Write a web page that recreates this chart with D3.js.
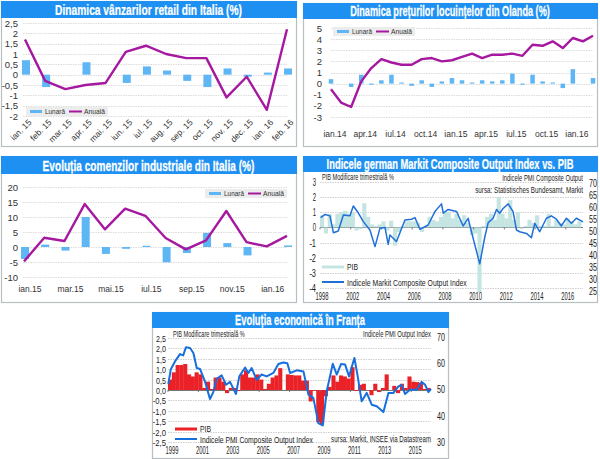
<!DOCTYPE html>
<html>
<head>
<meta charset="utf-8">
<script src="https://d3js.org/d3.v7.min.js"></script>
<style>
  body { margin: 0; background: #fff; }
  svg { display: block; }
  text { font-family: "Liberation Sans", Arial, sans-serif; fill: #333; }
  .narrow { fill: #222; }
  .title { font-weight: bold; fill: #fff; stroke: #fff; stroke-width: 0.25; text-anchor: middle; }
</style>
</head>
<body>
<svg id="chart" width="600" height="459"></svg>
<script>
// Vanzari retail Italia
var retailLabels = ["ian. 15","feb. 15","mar. 15","apr. 15","mai. 15","iun. 15","iul. 15","aug. 15","sep. 15","oct. 15","nov. 15","dec. 15","ian. 16","feb. 16"];
var retailLunara = [0.7,-0.6,0,0.6,0,-0.4,0.4,0.2,-0.3,-0.6,0.3,-0.1,0.1,0.3];
var retailAnuala = [1.7,-0.3,-0.7,-0.5,-0.4,1.1,1.4,1.0,0.8,0.8,-1.1,-0.1,-1.7,2.2];
var retailTicks = [2.5,2,1.5,1,0.5,0,-0.5,-1,-1.5,-2];

// Preturi locuinte Olanda
var olandaLabels = ["ian.14","apr.14","iul.14","oct.14","ian.15","apr.15","iul.15","oct.15","ian.16"];
var olandaLunara = [0.4,0,-0.3,0.8,-0.1,0.3,0.8,0.1,-0.2,0.3,-0.3,0.2,0.5,0.3,0.1,0.3,0.2,0.3,0.9,-0.1,0.8,0.2,0.1,-0.4,1.3,0,0.5];
var olandaAnuala = [-0.5,-1.7,-2.1,0.2,1.4,2.2,1.9,1.7,1.7,2.2,2.3,2.0,2.1,2.4,2.7,2.3,2.6,2.6,2.7,2.5,3.5,3.4,3.8,3.2,4.1,3.8,4.3];
var olandaTicks = [5,4,3,2,1,0,-1,-2,-3];

// Comenzi industriale Italia
var comenziLabels = ["ian.15","mar.15","mai.15","iul.15","sep.15","nov.15","ian.16"];
var comenziLunara = [-4,0.8,-1.2,10,-2.3,-0.6,0.4,-5.1,-2,4.7,1.3,-2.8,0,0.5];
var comenziAnuala = [-4.8,3.1,2,14.3,5.9,12.8,10.4,3,-0.8,2.2,12,1.6,0.2,3.7];
var comenziTicks = [20,15,10,5,0,-5,-10];

// Germania, PIB trimestrial din 2000
var germanPib = [0.8,-0.4,0.9,0.2, 0.9,1.0,1.1,0.9, 1.0,-0.2,-0.1,1.6, 0.7,0.2,0.1,0.2,
  0.4,-0.2,0.45,-1.2, -0.3,0.1,0.4,0.4, 0.4,0.3,-0.3,0.1, 0.7,0.5,0.4,0.7,
  1.1,1.0,0.6,0.9, 0.5,0.8,0.3,-0.5, -0.4,-4.3,0.1,0.7, 0.9,0.5,2.0,0.9,
  0.6,1.8,0.5,1.0, -0.1,0.1,0.5,0.3, 0.8,0.1,0.1,0.9, 0.1,0.5,0.3,0.2, 0.6,0.4,0.2,0.4];
var germanYears = [2000.04,2000.33,2000.65,2000.87,2001.19,2001.52,2001.95,2002.17,2002.49,2002.82,2003.25,2003.58,2003.9,2004.23,2004.44,2004.55,2004.98,2005.53,2005.96,2006.18,2006.5,2007.04,2007.48,2007.91,2008.02,2008.34,2008.89,2009.32,2009.64,2009.97,2010.4,2010.73,2010.95,2011.27,2011.49,2011.7,2011.92,2012.25,2012.57,2012.79,2013,2013.44,2013.76,2013.98,2014.3,2014.74,2015.06,2015.39,2015.71,2016.04,2016.36,2016.69,2017.12];
var germanPmi = [55.6,56.9,56.3,49.3,50,56.7,56.4,60.4,57.6,53.9,50.4,43.5,51.1,51.5,44.4,48.3,45.6,54.6,54.9,55.6,50.7,52.5,58.1,61.3,57.4,59,58.1,52.1,55.3,46.9,36.3,47.6,53.5,55.3,59,57.4,59.4,61.3,58.1,50.4,49.7,49,47.2,53.2,49.7,55.3,56.3,54.9,52.1,55.3,53.2,55.3,53.8];
var germanLeftTicks = [3,2,1,0,-1,-2,-3,-4];
var germanRightTicks = [70,65,60,55,50,45,40,35,30,25];
var germanLabels = ["1998","2002","2004","2006","2008","2010","2012","2014","2016"];
var germanLabelYears = [2000,2002,2004,2006,2008,2010,2012,2014,2016];

// Franta, PIB trimestrial din 1999
var francePib = [0.5,0.85,1.2,1.2, 1.25,0.75,0.65,0.85, 0.75,0.1,0.4,0.05, 0.6,0.6,0.4,-0.15,
  0.1,0.1,-0.05,0.75, 0.95,0.6,0.6,0.75, 0.5,0.05,0.3,0.6, 0.7,1.05,0,0.75,
  0.72,0.7,0.7,0.45, 0.45,-0.55,-0.02,-1.55, -1.65,-0.3,0.15,0.7, 0.4,0.7,0.65,0.55,
  1.1,-0.05,0.25,0.3, 0,-0.25,0.3,-0.1, 0.1,0.75,0,0.2, -0.15,0.3,0.1,0.65, 0.4,0.38,0.35,0.05, 0.1];
var franceYears = [1999.02,1999.18,1999.46,1999.79,2000,2000.18,2000.45,2000.67,2000.89,2001.11,2001.43,2001.76,2001.98,2002.2,2002.53,2002.82,2003.08,2003.47,2003.69,2004.07,2004.29,2004.5,2004.83,2005.16,2005.49,2005.93,2006.26,2006.59,2006.85,2007.03,2007.47,2007.91,2008.24,2008.56,2008.89,2009.18,2009.44,2009.84,2010.1,2010.38,2010.65,2010.91,2011.26,2011.46,2011.74,2012.07,2012.4,2012.73,2013.17,2013.5,2013.83,2014.16,2014.37,2014.59,2014.92,2015.36,2015.69,2015.91,2016.13,2016.3];
var francePmi = [52.1,57.6,60.7,63.5,63,66.1,65.8,63.9,58.2,57.8,53.1,46.4,49,54.1,55.4,51.8,52.9,48.3,55,58.4,56.3,58.2,53.7,55.7,55,56.3,59.7,60.3,60,56.3,57.3,56.9,48,46.8,37.2,36.3,49.3,59.8,55.7,59.7,59.5,55,62,55.7,45.5,48.7,44.2,43.6,41.4,48.7,48.7,51.2,51.8,48.3,49.9,49.9,52.9,51.8,49,50.2];
var franceLeftTicks = [2.5,2,1.5,1,0.5,0,-0.5,-1,-1.5,-2,-2.5];
var franceRightTicks = [70,60,50,40,30];
var franceLabels = ["1999","2001","2003","2005","2007","2009","2011","2013","2015"];
var franceLabelYears = [1999,2001,2003,2005,2007,2009,2011,2013,2015];

var svg = d3.select("#chart");
var BLUE = "#1e90f2", BAR = "#5fb6f4", LINE = "#a5189f";

// No condensed font is installed, so squeeze the text horizontally to the measured width
function squeezed(sel, width) {
  return sel.each(function(d, i) {
    var t = d3.select(this);
    var w = typeof width === "function" ? width(d, i) : width;
    var px = +t.attr("x"), py = +t.attr("y");
    var k = w / this.getComputedTextLength();
    t.attr("transform", "translate(" + px + "," + py + ") scale(" + k + ",1) translate(" + (-px) + "," + (-py) + ")");
  });
}

// Frame with blue title bar
function frame(x, y, w, h, barH, title, titleW) {
  svg.append("rect").attr("x", x + 0.5).attr("y", y + 0.5).attr("width", w).attr("height", h)
    .attr("fill", "#fff").attr("stroke", "#b9bec2").attr("stroke-width", 1.2);
  svg.append("rect").attr("x", x).attr("y", y).attr("width", w + 1).attr("height", barH).attr("fill", BLUE);
  squeezed(svg.append("text").attr("class", "title").attr("x", x + w / 2).attr("y", y + barH - 3)
    .style("font-size", "14px").text(title), titleW);
}

// Monthly bars + annual line charts (the first three panels)
function barLine(o) {
  var x = d3.scalePoint().domain(d3.range(o.lunara.length)).range([o.x0, o.x1]);
  var y = d3.scaleLinear().domain([o.ticks[o.ticks.length - 1], o.ticks[0]]).range([o.y1, o.y0]);

  var yAxis = d3.axisLeft(y).tickValues(o.ticks).tickSize(0).tickPadding(0)
    .tickFormat(function(d) { return String(d).replace(".", ","); });
  var ya = svg.append("g").attr("transform", "translate(" + o.tickRight + ",0)").call(yAxis);
  ya.select(".domain").remove();
  ya.selectAll("text").style("font-size", "9.5px").style("font-family", "Liberation Sans").attr("fill", "#333");

  svg.append("g").selectAll("line").data(o.ticks).join("line")
    .attr("x1", o.gridX0).attr("x2", o.gridX1)
    .attr("y1", function(d) { return Math.round(y(d)) + 0.5; })
    .attr("y2", function(d) { return Math.round(y(d)) + 0.5; })
    .attr("stroke", "#dcdcdc").attr("stroke-width", 1).attr("stroke-dasharray", "1.5 1");

  svg.append("g").selectAll("rect").data(o.lunara).join("rect")
    .attr("x", function(d, i) { return x(i) - o.barW / 2 + o.barDx; })
    .attr("width", o.barW)
    .attr("y", function(d) { return y(Math.max(d, 0)); })
    .attr("height", function(d) { return Math.abs(y(d) - y(0)); })
    .attr("fill", BAR);

  svg.append("path").datum(o.anuala)
    .attr("d", d3.line().x(function(d, i) { return x(i); }).y(function(d) { return y(d); }))
    .attr("fill", "none").attr("stroke", LINE).attr("stroke-width", 2.4).attr("stroke-linejoin", "round");

  // x labels
  o.labels.forEach(function(l, i) {
    var lx = x(i * o.labelStep) + o.labelDx;
    var t = svg.append("text").style("font-size", "8.5px").text(l);
    if (o.rotate) {
      t.attr("text-anchor", "end").attr("transform", "translate(" + lx + "," + o.labelY + ") rotate(-45)");
    } else {
      t.attr("text-anchor", "middle").attr("x", lx).attr("y", o.labelY);
    }
  });

  // legend
  var lg = o.legend;
  svg.append("rect").attr("x", lg.x).attr("y", lg.y).attr("width", 82).attr("height", 9).attr("fill", "#ececec");
  svg.append("rect").attr("x", lg.x + 4).attr("y", lg.y + 3).attr("width", 12).attr("height", 3).attr("fill", BAR);
  squeezed(svg.append("text").attr("x", lg.x + 19).attr("y", lg.y + 7.5).style("font-size", "7.5px").text("Lunară"), 20);
  svg.append("line").attr("x1", lg.x + 43).attr("x2", lg.x + 56).attr("y1", lg.y + 4.5).attr("y2", lg.y + 4.5)
    .attr("stroke", LINE).attr("stroke-width", 2);
  squeezed(svg.append("text").attr("x", lg.x + 58).attr("y", lg.y + 7.5).style("font-size", "7.5px").text("Anuală"), 21);
}

// Quarterly GDP bars + PMI line on its own axis (the last two panels)
function gdpPmi(o) {
  var x = d3.scaleLinear().domain(o.xDomain).range([o.x0, o.x1]);
  var yL = d3.scaleLinear().domain(o.leftDomain).range([o.y1, o.y0]);
  var yR = d3.scaleLinear().domain(o.rightDomain).range([o.yr1, o.yr0]);

  svg.append("g").selectAll("line").data(o.leftTicks).join("line")
    .attr("x1", o.x0).attr("x2", o.x1)
    .attr("y1", function(d) { return Math.round(yL(d)) + 0.5; })
    .attr("y2", function(d) { return Math.round(yL(d)) + 0.5; })
    .attr("stroke", function(d) { return d === 0 ? "#777" : "#cfcfcf"; })
    .attr("stroke-dasharray", function(d) { return d === 0 ? null : "1.5 1"; });

  svg.append("g").selectAll("rect").data(o.pib).join("rect")
    .attr("x", function(d, i) { return x(o.xDomain[0] + i / 4); })
    .attr("width", x(o.xDomain[0] + 0.25) - x(o.xDomain[0]) + 0.3)
    .attr("y", function(d) { return yL(Math.max(d, 0)); })
    .attr("height", function(d) { return Math.abs(yL(d) - yL(0)); })
    .attr("fill", o.barColor);

  // small year ticks on the zero line
  svg.append("g").selectAll("line").data(o.labelYears).join("line")
    .attr("x1", function(d) { return x(d); }).attr("x2", function(d) { return x(d); })
    .attr("y1", yL(0)).attr("y2", yL(0) + 2).attr("stroke", "#777");

  svg.append("path").datum(o.pmi)
    .attr("d", d3.line().x(function(d, i) { return x(o.years[i]); }).y(function(d) { return yR(d); }))
    .attr("fill", "none").attr("stroke", o.lineColor).attr("stroke-width", o.lineW).attr("stroke-linejoin", "round");

  squeezed(svg.append("g").selectAll("text").data(o.leftTicks).join("text").attr("class", "narrow")
    .attr("x", o.x0 - o.axisGap).attr("y", function(d) { return yL(d) + 4; }).attr("text-anchor", "end")
    .style("font-size", o.axisSize + "px")
    .text(function(d) { return o.leftFormat(d); }),
    function(d) { return o.leftFormat(d).length * 3.3; });

  squeezed(svg.append("g").selectAll("text").data(o.rightTicks).join("text").attr("class", "narrow")
    .attr("x", o.rightX).attr("y", function(d) { return yR(d) + 4; })
    .style("font-size", "11px")
    .text(function(d) { return d; }), 8);

  o.labels.forEach(function(l, i) {
    squeezed(svg.append("text").attr("class", "narrow").attr("x", x(o.labelYears[i]) + o.labelDx).attr("y", o.labelY)
      .attr("text-anchor", "middle").style("font-size", "10px").text(l), 13);
  });

  o.notes.forEach(function(n) {
    squeezed(svg.append("text").attr("class", "narrow").attr("x", n.x).attr("y", n.y)
      .attr("text-anchor", n.anchor).style("font-size", "8.5px").text(n.text), n.w);
  });
  svg.append("rect").attr("x", o.legendX).attr("y", o.legendY1 - 1.5).attr("width", 22).attr("height", 3).attr("fill", o.barColor);
  squeezed(svg.append("text").attr("class", "narrow").attr("x", o.legendX + 25).attr("y", o.legendY1 + 3)
    .style("font-size", "9.5px").text("PIB"), 11);
  svg.append("rect").attr("x", o.legendX).attr("y", o.legendY2 - 1).attr("width", 22).attr("height", 2).attr("fill", o.lineColor);
  squeezed(svg.append("text").attr("class", "narrow").attr("x", o.legendX + 25).attr("y", o.legendY2 + 4)
    .style("font-size", "9.5px").text(o.legendText), o.legendW);
}

frame(1, 1, 295, 145, 17, "Dinamica vânzarilor retail din Italia (%)", 187);
frame(303, 3, 294, 143, 16, "Dinamica prețurilor locuințelor din Olanda (%)", 200);
frame(1, 156, 295, 146, 18, "Evoluția comenzilor industriale din Italia (%)", 212);
frame(303, 156, 294, 146, 16, "Indicele german Markit Composite Output Index vs. PIB", 247);
frame(152, 312, 296, 146, 16, "Evoluția economică în Franța", 130);

barLine({ lunara: retailLunara, anuala: retailAnuala, ticks: retailTicks, labels: retailLabels, labelStep: 1,
  x0: 25, x1: 287, y0: 23, y1: 116, gridX0: 23, gridX1: 287, tickRight: 18, barW: 8, barDx: 1,
  rotate: true, labelY: 123, labelDx: 7,
  legend: { x: 26, y: 107 } });

barLine({ lunara: olandaLunara, anuala: olandaAnuala, ticks: olandaTicks, labels: olandaLabels, labelStep: 3,
  x0: 331, x1: 593, y0: 28, y1: 117, gridX0: 331, gridX1: 593, tickRight: 322, barW: 4.5, barDx: 0,
  rotate: false, labelY: 137, labelDx: 4,
  legend: { x: 333, y: 27 } });

barLine({ lunara: comenziLunara, anuala: comenziAnuala, ticks: comenziTicks, labels: comenziLabels, labelStep: 2,
  x0: 24, x1: 287, y0: 187, y1: 277, gridX0: 23, gridX1: 287, tickRight: 18, barW: 8, barDx: 1,
  rotate: false, labelY: 292, labelDx: 6,
  legend: { x: 205, y: 189 } });

gdpPmi({ pib: germanPib, pmi: germanPmi, years: germanYears, xDomain: [2000, 2017.12], x0: 320, x1: 583,
  leftDomain: [-4, 3], y0: 182, y1: 288, rightDomain: [25, 70], yr0: 183, yr1: 291,
  leftTicks: germanLeftTicks, rightTicks: germanRightTicks, leftFormat: function(d) { return String(d); }, axisSize: 10, axisGap: 4,
  barColor: "#c4e5e1", lineColor: "#1f70d8", lineW: 1.5, rightX: 589,
  labels: germanLabels, labelYears: germanLabelYears, labelDx: 2, labelY: 300,
  notes: [
    { x: 322, y: 180, text: "PIB Modificare trimestrială %", anchor: "start", w: 72 },
    { x: 583, y: 181, text: "Indicele PMI Composite Output", anchor: "end", w: 81 },
    { x: 583, y: 193, text: "sursa: Statistisches Bundesamt, Markit", anchor: "end", w: 108 }
  ],
  legendX: 322, legendY1: 267, legendY2: 282, legendText: "Indicele Markit Composite Output Index", legendW: 120 });

gdpPmi({ pib: francePib, pmi: francePmi, years: franceYears, xDomain: [1999, 2016.3], x0: 168, x1: 431,
  leftDomain: [-2.5, 2.5], y0: 338, y1: 442, rightDomain: [30, 70], yr0: 337, yr1: 442,
  leftTicks: franceLeftTicks, rightTicks: franceRightTicks, leftFormat: function(d) { return d3.format(".1f")(d).replace(".", ",").replace("−", "-"); }, axisSize: 9.5, axisGap: 2,
  barColor: "#ea2127", lineColor: "#176fdc", lineW: 2, rightX: 437,
  labels: franceLabels, labelYears: franceLabelYears, labelDx: 4, labelY: 454,
  notes: [
    { x: 173, y: 337, text: "PIB Modificare trimestrială %", anchor: "start", w: 72 },
    { x: 431, y: 337, text: "Indicele PMI Output Index", anchor: "end", w: 68 },
    { x: 431, y: 442, text: "sursa: Markit, INSEE via Datastream", anchor: "end", w: 100 }
  ],
  legendX: 175, legendY1: 429, legendY2: 439, legendText: "Indicele PMI Composite Output Index", legendW: 113 });
</script>
</body>
</html>
